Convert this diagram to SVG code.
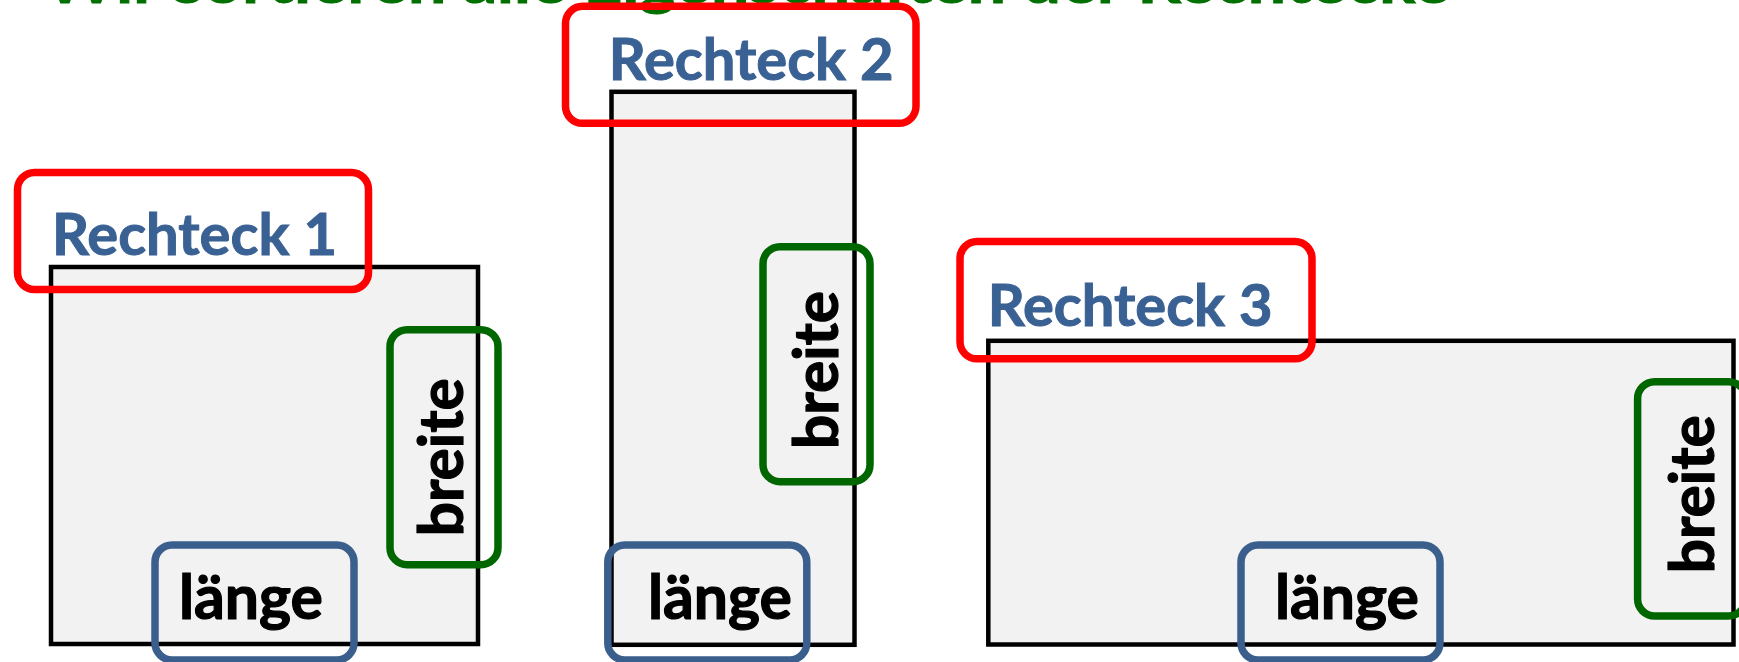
<svg xmlns="http://www.w3.org/2000/svg" width="1739" height="662" viewBox="0 0 1739 662">
<style>
  .shape { fill: #F2F2F2; stroke: #000000; stroke-width: 4.5; }
  .red { fill: none; stroke: #FF0000; stroke-width: 7.5; }
  .green { fill: none; stroke: #006600; stroke-width: 7.5; }
  .blue { fill: none; stroke: #3A5F8D; stroke-width: 7.5; }
  .name { font-family: Lato, "Liberation Sans", sans-serif; font-weight: bold; font-size: 58px; fill: #3A6193; stroke: #3A6193; stroke-width: 1; }
  .attr { font-family: Lato, "Liberation Sans", sans-serif; font-weight: bold; font-size: 62px; fill: #000000; stroke: #000000; stroke-width: 1.2; }
  .title { font-family: Lato, "Liberation Sans", sans-serif; font-weight: bold; font-size: 60px; fill: #007000; stroke: #007000; stroke-width: 1; }
</style>
<rect width="1739" height="662" fill="#FFFFFF"/>
<text class="title" x="45" y="2.5" textLength="1405" lengthAdjust="spacingAndGlyphs">Wir sortieren alle Eigenschaften der Rechtecke</text>

<g id="rechteck1">
  <rect class="shape" x="51" y="267" width="427" height="377"/>
  <rect class="red" x="17.5" y="172.5" width="351" height="117" rx="17"/>
  <text class="name" x="52" y="255" textLength="285" lengthAdjust="spacingAndGlyphs">Rechteck 1</text>
  <rect class="green" x="390" y="329.7" width="108" height="235" rx="17"/>
  <text class="attr" transform="translate(462.7,536.3) rotate(-90)" textLength="158" lengthAdjust="spacingAndGlyphs">breite</text>
  <rect class="blue" x="155" y="545" width="199" height="115" rx="17"/>
  <text class="attr" x="179" y="619" textLength="144" lengthAdjust="spacingAndGlyphs">länge</text>
</g>

<g id="rechteck2">
  <rect class="shape" x="611.5" y="91.8" width="243" height="553"/>
  <rect class="red" x="565.5" y="6.3" width="350.5" height="117" rx="17"/>
  <text class="name" x="608.7" y="80" textLength="285" lengthAdjust="spacingAndGlyphs">Rechteck 2</text>
  <rect class="green" x="763" y="246.7" width="107" height="235" rx="17"/>
  <text class="attr" transform="translate(837.7,449) rotate(-90)" textLength="158" lengthAdjust="spacingAndGlyphs">breite</text>
  <rect class="blue" x="607.8" y="545" width="199" height="115" rx="17"/>
  <text class="attr" x="648" y="618.5" textLength="144" lengthAdjust="spacingAndGlyphs">länge</text>
</g>

<g id="rechteck3">
  <rect class="shape" x="988.3" y="340.8" width="745.2" height="303.7"/>
  <rect class="red" x="960" y="241.5" width="352" height="117.3" rx="17"/>
  <text class="name" x="987.7" y="326" textLength="285" lengthAdjust="spacingAndGlyphs">Rechteck 3</text>
  <rect class="green" x="1637.6" y="381.7" width="108" height="234.3" rx="17"/>
  <text class="attr" transform="translate(1713.7,573.3) rotate(-90)" textLength="158" lengthAdjust="spacingAndGlyphs">breite</text>
  <rect class="blue" x="1241" y="545" width="199" height="115" rx="17"/>
  <text class="attr" x="1275" y="618.5" textLength="144" lengthAdjust="spacingAndGlyphs">länge</text>
</g>

<g id="connectors"/>
</svg>
